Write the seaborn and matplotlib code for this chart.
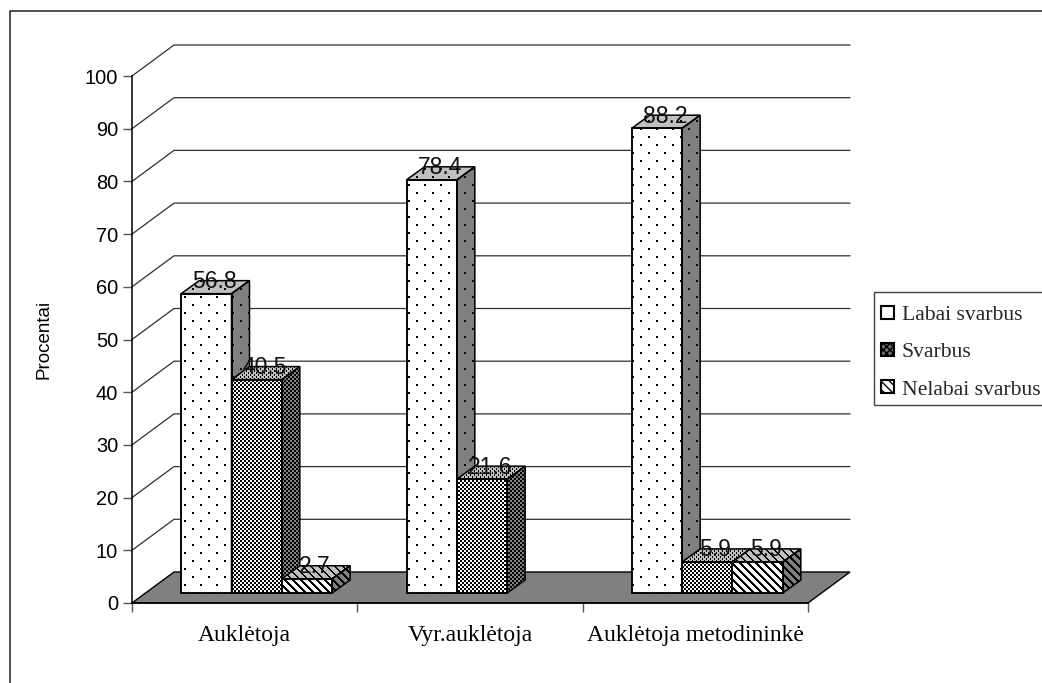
import numpy as np
import pandas as pd
import seaborn as sns
import matplotlib
matplotlib.use('Agg')
import matplotlib.pyplot as plt
from matplotlib.lines import Line2D
from matplotlib.patches import Patch, Polygon, Rectangle
from matplotlib.transforms import Affine2D, IdentityTransform

categories = ['Auklėtoja', 'Vyr.auklėtoja', 'Auklėtoja metodininkė']
series_names = ['Labai svarbus', 'Svarbus', 'Nelabai svarbus']
labai_svarbus = [56.8, 78.4, 88.2]
svarbus = [40.5, 21.6, 5.9]
nelabai_svarbus = [2.7, np.nan, 5.9]
y_ticks = list(range(0, 101, 10))

W, H = 1042, 683
BAR_SHIFT = (12, 10)     # bars stand a bit behind the front edge of the floor
BAR_DEPTH = (18, 13)
WALL_DEPTH = (42, 31)
GREY = (128, 128, 128)
LIGHT = (192, 192, 192)
WHITE = (255, 255, 255)


def texture(kind, bg):
    # pixel fill patterns, same look as the old office chart fills
    yy, xx = np.mgrid[0:H, 0:W]
    if kind == 'dots':
        mark = (yy % 8 < 2) & ((xx + (yy // 8) * 8) % 16 < 2)
    elif kind == 'check':
        mark = ((xx // 2 + yy // 2) % 2 == 0)
    elif kind == 'check_top':
        mark = ((xx // 2 + yy // 2) % 2 == 0) & (xx % 2 == 0)
    elif kind == 'stripes_top':
        mark = ((xx - yy) % 8 < 2)
    else:
        mark = ((xx - yy) % 8 < 3)
    img = np.zeros((H, W, 3), dtype=np.uint8)
    img[:] = bg
    img[mark] = (0, 0, 0)
    return img


def fill_face(ax, verts, kind, bg, z):
    face = Polygon(verts, closed=True, facecolor='none', edgecolor='black',
                   linewidth=1.1, transform=IdentityTransform(), zorder=z + 0.1,
                   clip_on=False)
    ax.add_patch(face)
    im = ax.imshow(texture(kind, bg), extent=(0, W, 0, H), aspect='auto',
                   interpolation='nearest', transform=IdentityTransform(),
                   zorder=z)
    im.set_clip_path(face)


def main():
    sns.set_style('white')
    plt.rcParams['font.family'] = ['Liberation Sans', 'DejaVu Sans']

    df = pd.DataFrame({
        'kategorija': categories * 3,
        'serija': np.repeat(series_names, 3),
        'procentai': labai_svarbus + svarbus + nelabai_svarbus,
    })

    fig = plt.figure(figsize=(W / 100, H / 100), dpi=100, facecolor='white')
    ax = fig.add_axes([132 / W, 80 / H, 676 / W, 527 / H])
    ax.patch.set_visible(False)
    sns.barplot(data=df, x='kategorija', y='procentai', hue='serija',
                hue_order=series_names, order=categories, width=0.67, gap=0,
                dodge=True, ax=ax, legend=False, errorbar=None)
    ax.set_xlim(-0.5, 2.5)
    ax.set_ylim(0, 100)
    ax.set_autoscale_on(False)

    # back wall, side wall and floor
    to_px = ax.transData.transform
    x0, y0 = to_px((-0.5, 0))
    x1, _ = to_px((2.5, 0))
    dx, dy = WALL_DEPTH
    floor = Polygon([(x0, y0), (x1, y0), (x1 + dx, y0 + dy), (x0 + dx, y0 + dy)],
                    closed=True, facecolor='#808080', edgecolor='black',
                    linewidth=1, transform=IdentityTransform(), zorder=1,
                    clip_on=False)
    ax.add_patch(floor)
    for v in y_ticks[1:]:
        _, yp = to_px((0, v))
        ax.add_line(Line2D([x0, x0 + dx, x1 + dx], [yp, yp + dy, yp + dy],
                           color='#303030', linewidth=0.9, clip_on=False,
                           transform=IdentityTransform(), zorder=0.5))

    # front faces come from seaborn, sides and tops are added from their size
    kinds = ['dots', 'check', 'stripes']
    top_kinds = ['dots', 'check_top', 'stripes_top']
    z = 3
    # seaborn leaves the empty bar out of its container, so sort by position
    bars = []
    for si, cont in enumerate(ax.containers):
        for bar in cont:
            bars.append((bar.get_x(), si, bar))
    bars.sort(key=lambda b: b[0])
    for _, si, bar in bars:
        h = bar.get_height()
        off = Affine2D().translate(*BAR_SHIFT)
        bar.set_transform(ax.transData + off)
        bar.set_facecolor('none')
        bar.set_edgecolor('black')
        bar.set_linewidth(1.1)
        bar.set_clip_on(False)
        bar.set_zorder(z + 0.2)
        xl, yb = to_px((bar.get_x(), 0)) + np.array(BAR_SHIFT)
        xr, yt = to_px((bar.get_x() + bar.get_width(), h)) + np.array(BAR_SHIFT)
        bx, by = BAR_DEPTH
        fill_face(ax, [(xr, yb), (xr + bx, yb + by), (xr + bx, yt + by), (xr, yt)],
                  kinds[si], GREY, z)
        fill_face(ax, [(xl, yt), (xr, yt), (xr + bx, yt + by), (xl + bx, yt + by)],
                  top_kinds[si], LIGHT, z)
        fill_face(ax, [(xl, yb), (xr, yb), (xr, yt), (xl, yt)],
                  kinds[si], WHITE, z + 0.05)
        ax.text((xl + xr) / 2 + 8, yt + 12, f'{h:.1f}', ha='center', va='center',
                fontsize=16.5, color='#111111', transform=IdentityTransform(),
                zorder=30, clip_on=False)
        z += 1

    ax.set_xlim(-0.5, 2.5)
    ax.set_ylim(0, 100)

    # axes
    sns.despine(ax=ax)
    for side in ['left', 'bottom']:
        ax.spines[side].set_color('black')
        ax.spines[side].set_linewidth(1.1)
    ax.spines['bottom'].set_zorder(2)
    ax.set_yticks(y_ticks)
    ax.tick_params(axis='y', left=True, length=6.5, width=1, color='#555555',
                   pad=3.5, labelsize=14.4, labelcolor='black')
    ax.set_xticks(range(len(categories)))
    ax.set_xticklabels(categories, family=['Liberation Serif'], fontsize=17)
    ax.tick_params(axis='x', which='major', length=0, pad=16, labelcolor='black')
    ax.set_xticks([-0.5, 0.5, 1.5, 2.5], minor=True)
    ax.tick_params(axis='x', which='minor', bottom=True, length=6.5, width=1,
                   color='#555555')
    ax.set_xlabel('')
    ax.set_ylabel('Procentai', fontsize=13.5, color='black')
    ax.yaxis.set_label_coords((53 - 132) / 676, 0.5)

    # legend, the box runs past the right edge like in the original
    fig.add_artist(Rectangle((874 / W, 1 - 405 / H), 180 / W, 113 / H,
                             facecolor='white', edgecolor='#404040', linewidth=1,
                             transform=fig.transFigure))
    handles = [
        Patch(facecolor='white', edgecolor='black', linewidth=1.5),
        Patch(facecolor='#707070', edgecolor='black', linewidth=1.5, hatch='xxxxx'),
        Patch(facecolor='white', edgecolor='black', linewidth=1.5, hatch='\\\\\\\\'),
    ]
    fig.legend(handles, series_names, loc='upper left',
               bbox_to_anchor=(881 / W, 1 - 306 / H), borderaxespad=0,
               prop={'family': 'Liberation Serif', 'size': 15.6},
               handlelength=0.62, handleheight=0.55, handletextpad=0.33,
               labelspacing=0.83, borderpad=0, frameon=False)

    # chart area border, only top and left are inside the picture
    fig.add_artist(Line2D([1.01, 9.5 / W, 9.5 / W], [1 - 11 / H, 1 - 11 / H, -0.01],
                          color='#202020', linewidth=1.1))

    fig.savefig('out.png', dpi=100)


if __name__ == "__main__":
    main()
